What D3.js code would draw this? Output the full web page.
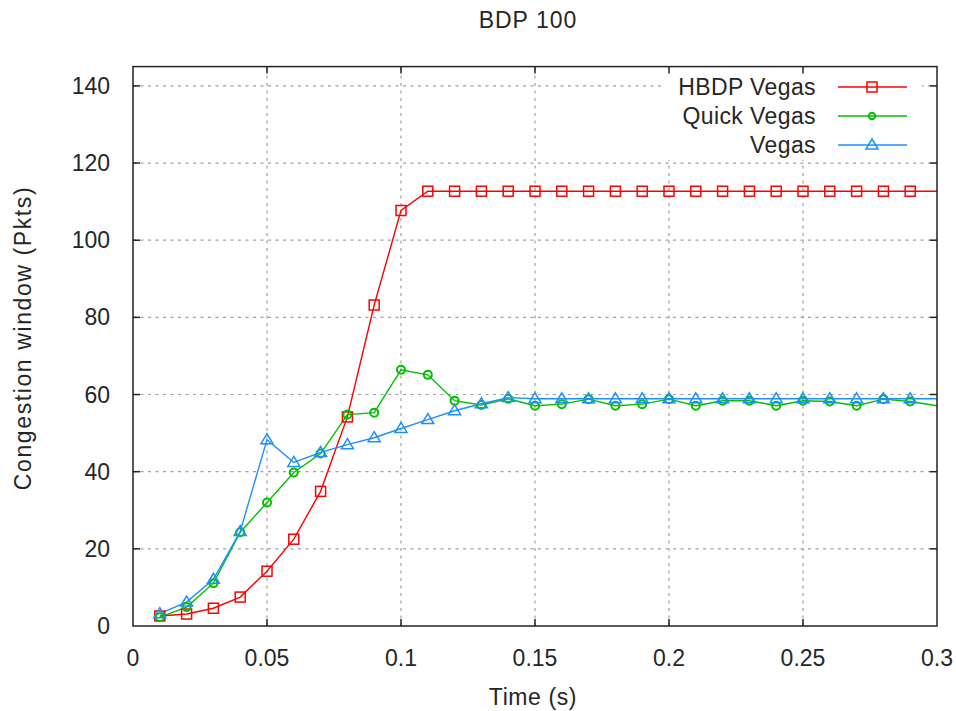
<!DOCTYPE html>
<html>
<head>
<meta charset="utf-8">
<script src="https://cdn.jsdelivr.net/npm/d3@7"></script>
<style>
  html, body { margin: 0; padding: 0; background: #fff; }
  svg { display: block; font-family: "Liberation Sans", Arial, sans-serif; }
</style>
</head>
<body>
<svg id="chart" width="956" height="711"></svg>
<script>
// ---- Data ----
const time = [0.01,0.02,0.03,0.04,0.05,0.06,0.07,0.08,0.09,0.10,
              0.11,0.12,0.13,0.14,0.15,0.16,0.17,0.18,0.19,0.20,
              0.21,0.22,0.23,0.24,0.25,0.26,0.27,0.28,0.29,0.30];
const hbdpVegas = [2.6,3.1,4.6,7.5,14.2,22.5,34.9,54.2,83.2,107.7,
                   112.7,112.7,112.7,112.7,112.7,112.7,112.7,112.7,112.7,112.7,
                   112.7,112.7,112.7,112.7,112.7,112.7,112.7,112.7,112.7,112.7];
const quickVegas = [2.3,4.9,11.1,24.3,32.0,39.8,44.7,54.8,55.3,66.4,
                    65.1,58.4,57.3,58.9,57.1,57.5,58.8,57.1,57.5,58.8,
                    57.1,58.4,58.4,57.1,58.4,58.2,57.1,58.8,58.2,57.1];
const vegas = [3.2,6.2,12.1,24.5,48.3,42.4,45.0,47.0,48.8,51.2,
               53.5,55.8,57.6,59.2,58.9,58.9,58.9,58.9,58.9,58.9,
               58.9,58.9,58.9,58.9,58.9,58.9,58.9,58.9,58.9,58.9];
const seriesNames = ["HBDP Vegas", "Quick Vegas", "Vegas"];
const xTicks = [0,0.05,0.1,0.15,0.2,0.25,0.3];
const xTickLabels = ["0","0.05","0.1","0.15","0.2","0.25","0.3"];
const yTicks = [0,20,40,60,80,100,120,140];
const titleText = "BDP 100";
const xLabel = "Time (s)";
const yLabel = "Congestion window (Pkts)";

// ---- Layout ----
const L = 133, R = 937, T = 66.6, B = 626;
const svg = d3.select("#chart");
const x = d3.scaleLinear().domain([0, 0.3]).range([L, R]);
const y = d3.scaleLinear().domain([0, 145]).range([B, T]);
const textColor = "#262626";
const fontSize = 23;

const series = [
  {name: seriesNames[0], values: hbdpVegas, color: "#ff0000", marker: "square"},
  {name: seriesNames[1], values: quickVegas, color: "#00c000", marker: "circle"},
  {name: seriesNames[2], values: vegas, color: "#1e8fff", marker: "triangle"}
];

// Grid
const grid = svg.append("g").attr("stroke", "#a0a0a0").attr("stroke-width", 1.2)
  .attr("stroke-dasharray", "3,4.5");
grid.selectAll("line.gx").data(xTicks.slice(1, -1)).enter().append("line")
  .attr("x1", d => x(d)).attr("x2", d => x(d)).attr("y1", B).attr("y2", T);
grid.selectAll("line.gy").data(yTicks.slice(1)).enter().append("line")
  .attr("x1", L).attr("x2", R).attr("y1", d => y(d)).attr("y2", d => y(d));

// Legend background (covers grid)
svg.append("rect").attr("x", 664).attr("y", 68).attr("width", 258).attr("height", 92)
  .attr("fill", "#fff");

// Marker drawing
function drawMarker(g, type, cx, cy, color, scale) {
  scale = scale || 1;
  if (type === "square") {
    const s = 10 * scale;
    g.append("rect").attr("x", cx - s/2).attr("y", cy - s/2).attr("width", s).attr("height", s)
      .attr("fill", "none").attr("stroke", color).attr("stroke-width", 1.5);
  } else if (type === "circle") {
    g.append("circle").attr("cx", cx).attr("cy", cy).attr("r", 4 * scale)
      .attr("fill", "none").attr("stroke", color).attr("stroke-width", 2);
  } else {
    const w = 12 * scale, h = 10 * scale;
    g.append("path")
      .attr("d", `M${cx},${cy - h*0.6}L${cx + w/2},${cy + h*0.4}L${cx - w/2},${cy + h*0.4}Z`)
      .attr("fill", "none").attr("stroke", color).attr("stroke-width", 1.5);
  }
}

// Lines and markers
const line = d3.line().x((d, i) => x(time[i])).y(d => y(d));
series.forEach(s => {
  svg.append("path").attr("d", line(s.values)).attr("fill", "none")
    .attr("stroke", s.color).attr("stroke-width", 1.4);
});
series.forEach(s => {
  const g = svg.append("g");
  s.values.forEach((v, i) => {
    if (time[i] < 0.3 - 1e-9) drawMarker(g, s.marker, x(time[i]), y(v), s.color);
  });
});

// Frame
svg.append("rect").attr("x", L).attr("y", T).attr("width", R - L).attr("height", B - T)
  .attr("fill", "none").attr("stroke", "#222").attr("stroke-width", 1.5);

// Ticks (inward, mirrored)
const tk = svg.append("g").attr("stroke", "#222").attr("stroke-width", 1.5);
const tl = 7;
xTicks.slice(1, -1).forEach(t => {
  tk.append("line").attr("x1", x(t)).attr("x2", x(t)).attr("y1", B).attr("y2", B - tl);
  tk.append("line").attr("x1", x(t)).attr("x2", x(t)).attr("y1", T).attr("y2", T + tl);
});
yTicks.slice(1).forEach(t => {
  tk.append("line").attr("x1", L).attr("x2", L + tl).attr("y1", y(t)).attr("y2", y(t));
  tk.append("line").attr("x1", R).attr("x2", R - tl).attr("y1", y(t)).attr("y2", y(t));
});

// Tick labels
svg.append("g").selectAll("text").data(xTicks).enter().append("text")
  .attr("x", d => x(d)).attr("y", 666).attr("text-anchor", "middle")
  .attr("font-size", fontSize).attr("fill", textColor)
  .text((d, i) => xTickLabels[i]);
svg.append("g").selectAll("text").data(yTicks).enter().append("text")
  .attr("x", 110).attr("y", d => y(d) + 8).attr("text-anchor", "end")
  .attr("font-size", fontSize).attr("fill", textColor)
  .text(d => d);

// Titles
svg.append("text").attr("x", 528).attr("y", 28).attr("text-anchor", "middle")
  .attr("font-size", fontSize).attr("letter-spacing", 1).attr("fill", textColor).text(titleText);
svg.append("text").attr("x", 533).attr("y", 705).attr("text-anchor", "middle")
  .attr("font-size", fontSize).attr("letter-spacing", 0.6).attr("fill", textColor).text(xLabel);
svg.append("text").attr("transform", "translate(31,338) rotate(-90)").attr("text-anchor", "middle")
  .attr("font-size", fontSize).attr("letter-spacing", 1.6).attr("fill", textColor).text(yLabel);

// Legend
series.forEach((s, i) => {
  const ly = 87 + i * 29;
  svg.append("text").attr("x", 816).attr("y", ly + 8).attr("text-anchor", "end")
    .attr("font-size", fontSize).attr("letter-spacing", 0.4).attr("fill", textColor).text(s.name);
  svg.append("line").attr("x1", 838).attr("x2", 907).attr("y1", ly).attr("y2", ly)
    .attr("stroke", s.color).attr("stroke-width", 1.4);
  const g = svg.append("g");
  drawMarker(g, s.marker, 872, ly, s.color, s.marker === "circle" ? 0.8 : 1);
});
</script>
</body>
</html>
